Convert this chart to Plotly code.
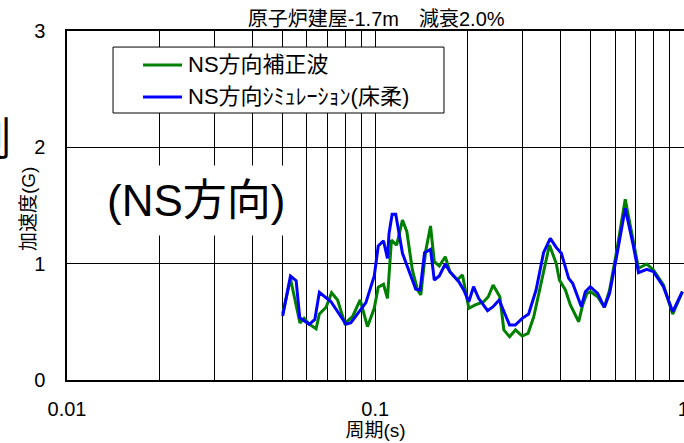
import plotly.graph_objects as go

# ---- data ----
period_green = [0.0501, 0.0531, 0.057, 0.0588, 0.0611, 0.0643, 0.0659, 0.0693, 0.0722, 0.0755,
                0.0797, 0.0844, 0.0894, 0.0944, 0.0993, 0.1023, 0.1064, 0.1096, 0.1129, 0.1174,
                0.1226, 0.1267, 0.132, 0.1372, 0.1406, 0.1457, 0.1512, 0.1555, 0.1614, 0.1688,
                0.1747, 0.1847, 0.192, 0.2013, 0.2113, 0.2248, 0.2328, 0.2413, 0.2538, 0.2615,
                0.2729, 0.2853, 0.2998, 0.3134, 0.327, 0.3478, 0.3676, 0.3866, 0.396, 0.4142,
                0.4298, 0.4574, 0.4712, 0.4866, 0.5, 0.527, 0.554, 0.5762, 0.6084, 0.6476,
                0.6855, 0.7152, 0.7607, 0.7996, 0.8614, 0.9235, 0.9926]
accel_green = [0.57, 0.87, 0.49, 0.53, 0.48, 0.44, 0.567, 0.625, 0.75, 0.688,
               0.487, 0.544, 0.688, 0.458, 0.616, 0.797, 0.823, 0.702, 1.203, 1.16,
               1.375, 1.275, 0.946, 0.774, 0.731, 1.103, 1.324, 1.017, 0.98, 1.06,
               0.931, 0.86, 0.903, 0.616, 0.645, 0.673, 0.716, 0.817, 0.716, 0.43,
               0.372, 0.43, 0.378, 0.401, 0.544, 0.86, 1.16, 1.003, 0.86, 0.774,
               0.645, 0.501, 0.645, 0.745, 0.759, 0.716, 0.625, 0.774, 1.117, 1.553,
               1.203, 0.96, 0.997, 0.946, 0.817, 0.567, 0.759]

period_blue = [0.0501, 0.0531, 0.0554, 0.0569, 0.0611, 0.0637, 0.0659, 0.0719, 0.0804, 0.0834,
               0.0933, 0.0993, 0.1023, 0.1064, 0.1096, 0.1109, 0.1135, 0.1166, 0.1226, 0.1267,
               0.1302, 0.1354, 0.1399, 0.1446, 0.1512, 0.1555, 0.1614, 0.1688, 0.1747, 0.1868,
               0.1937, 0.2013, 0.2085, 0.2166, 0.2315, 0.2413, 0.2524, 0.2729, 0.2848, 0.300,
               0.3147, 0.3327, 0.3518, 0.3699, 0.3866, 0.4019, 0.4244, 0.4373, 0.4666, 0.4807,
               0.4988, 0.527, 0.554, 0.5762, 0.6084, 0.6476, 0.6855, 0.7152, 0.7607, 0.7996,
               0.8614, 0.9235, 0.9926]
accel_blue = [0.55, 0.894, 0.854, 0.536, 0.479, 0.52, 0.754, 0.673, 0.479, 0.493,
              0.665, 0.894, 1.152, 1.197, 1.046, 1.26, 1.424, 1.424, 1.089, 0.989,
              0.903, 0.78, 0.774, 1.094, 1.123, 0.86, 0.894, 0.997, 0.931, 0.845,
              0.774, 0.673, 0.802, 0.702, 0.596, 0.63, 0.688, 0.473, 0.473, 0.53,
              0.567, 0.774, 1.094, 1.218, 1.14, 1.089, 0.874, 0.831, 0.63, 0.759,
              0.802, 0.745, 0.625, 0.745, 1.075, 1.476, 1.175, 0.922, 0.951, 0.931,
              0.802, 0.587, 0.759]

series_names = ["NS方向補正波", "NS方向ｼﾐｭﾚｰｼｮﾝ(床柔)"]
series_colors = ["#008000", "#0000FF"]
title_text = "原子炉建屋-1.7m　減衰2.0%"
x_grid_vals = [0.01, 0.02, 0.03, 0.04, 0.05, 0.06, 0.07, 0.08, 0.09,
               0.1, 0.2, 0.3, 0.4, 0.5, 0.6, 0.7, 0.8, 0.9, 1.0]
x_tick_labels = ["0.01", "", "", "", "", "", "", "", "",
                 "0.1", "", "", "", "", "", "", "", "", "1"]
y_tick_vals = [0, 1, 2, 3]

FONT = "Liberation Sans Narrow, Liberation Sans, Arial, Noto Sans CJK JP, sans-serif"

fig = go.Figure()
for px_, py_, nm, col in [(period_green, accel_green, series_names[0], series_colors[0]),
                          (period_blue, accel_blue, series_names[1], series_colors[1])]:
    fig.add_trace(go.Scatter(x=px_, y=py_, mode="lines", name=nm,
                             line=dict(color=col, width=3), showlegend=False))

fig.update_layout(
    width=684, height=443,
    margin=dict(l=67, r=0, t=31, b=63, autoexpand=False),
    paper_bgcolor="white", plot_bgcolor="white",
    font=dict(family=FONT, color="black", size=19),
    title=dict(text=title_text, x=0.55, xanchor="center", y=0.958, yanchor="middle",
               font=dict(size=20, color="black")),
    xaxis=dict(type="log", range=[-2, 0.002], automargin=False,
               tickvals=x_grid_vals, ticktext=x_tick_labels,
               showgrid=True, gridcolor="black", gridwidth=1,
               showline=True, linecolor="black", linewidth=2, mirror=True,
               ticks="", ticklabelstandoff=10, tickfont=dict(size=20),
               ticklabeloverflow="allow",
               title=dict(text="周期(s)", standoff=0, font=dict(size=19)),
               zeroline=False),
    yaxis=dict(range=[0, 3], tickvals=y_tick_vals, automargin=False,
               showgrid=True, gridcolor="black", gridwidth=1,
               showline=True, linecolor="black", linewidth=1.5, mirror=False,
               ticks="", ticklabelstandoff=16, tickfont=dict(size=20),
               zeroline=False),
)

# y-axis title placed close to the tick labels, as in the reference
fig.add_annotation(text="加速度(G)", xref="paper", yref="paper",
                   x=-0.0616, y=0.49, xanchor="center", yanchor="middle",
                   textangle=-90, showarrow=False, font=dict(size=19, color="black"))

# legend box drawn manually (white box with black border over the grid)
leg_x0, leg_x1, leg_y0, leg_y1 = 0.0746, 0.611, 0.765, 0.954
leg_rows = [0.9026, 0.8109]
fig.add_shape(type="rect", xref="paper", yref="paper",
              x0=leg_x0, x1=leg_x1, y0=leg_y0, y1=leg_y1,
              fillcolor="white", line=dict(color="black", width=1), layer="above")
for yrow, nm, col in zip(leg_rows, series_names, series_colors):
    fig.add_shape(type="line", xref="paper", yref="paper",
                  x0=0.1232, x1=0.1864, y0=yrow, y1=yrow,
                  line=dict(color=col, width=3), layer="above")
    fig.add_annotation(text=nm, xref="paper", yref="paper", x=0.1929, y=yrow,
                       xanchor="left", yanchor="middle", showarrow=False,
                       font=dict(size=22, color="black"))

fig.add_annotation(text="(NS方向)", xref="paper", yref="paper",
                   x=0.209, y=0.513, xanchor="center", yanchor="middle",
                   showarrow=False, font=dict(size=44, color="black"),
                   bgcolor="white", borderpad=10)
fig.add_annotation(text="測", xref="paper", yref="paper",
                   x=-0.088, y=0.69, xanchor="right", yanchor="middle",
                   showarrow=False, font=dict(size=44, color="black"))

fig.write_html("out.html", post_script="document.body.style.margin='0';",
               config={"displayModeBar": False})
